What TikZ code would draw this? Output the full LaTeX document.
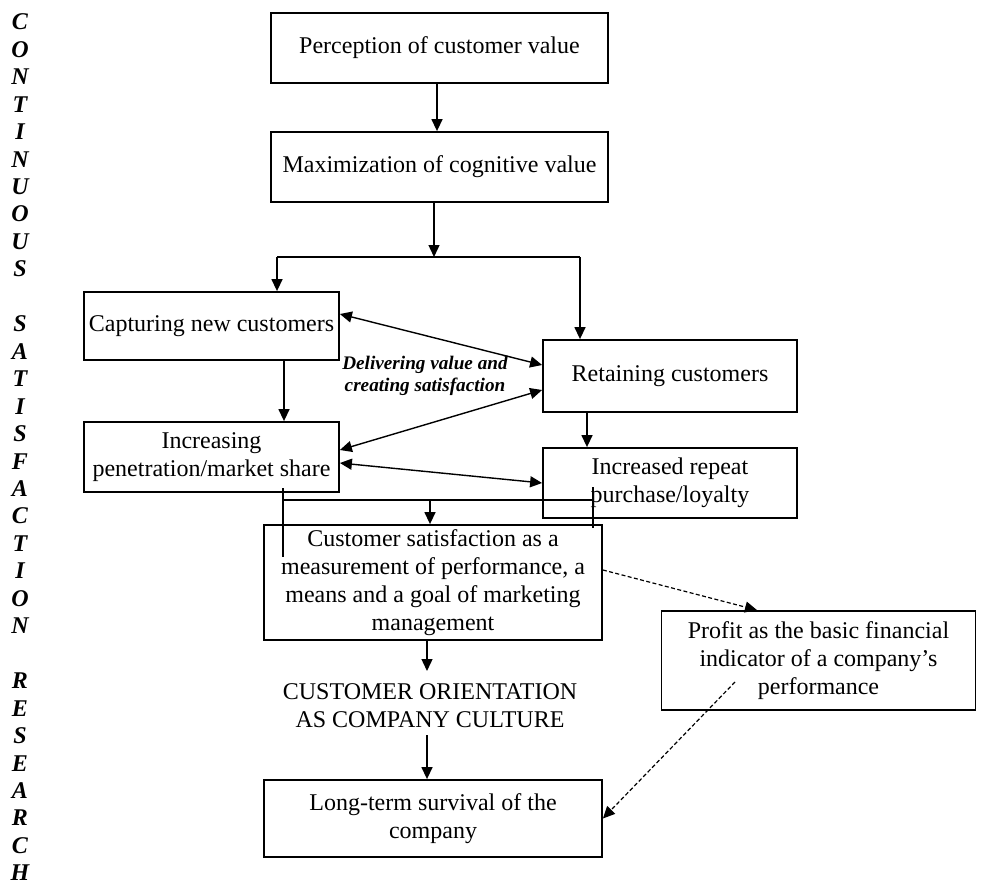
\documentclass[tikz,border=0pt]{standalone}
\usepackage{fontspec}
\setmainfont{Liberation Serif}
\usetikzlibrary{arrows.meta,calc}

\tikzset{
  box/.style={draw,line width=0.9pt,align=center,inner sep=0pt,
    font=\fontsize{12}{14}\selectfont},
  plain/.style={align=center,inner sep=0pt,font=\fontsize{12}{14}\selectfont},
  conn/.style={line width=0.7pt},
  dotconn/.style={line width=0.6pt,dash pattern=on 2pt off 1.2pt},
  >={Triangle[length=6pt,width=5.5pt]},
}

\begin{document}
\begin{tikzpicture}[x=0.5pt,y=-0.5pt]
  \useasboundingbox (0,0) rectangle (985,883);
  % letters down the left side
  \foreach \ch [count=\i from 0] in {C,O,N,T,I,N,U,O,U,S,{},S,A,T,I,S,F,A,C,T,I,O,N,{},R,E,S,E,A,R,C,H}
    \node[font=\fontsize{12}{14}\selectfont\bfseries\itshape,inner sep=0pt] (side\i) at (20,22+27.45*\i) {\ch};

  \node[box,minimum width=168.5pt,minimum height=35pt] (perc) at (439.5,48) {Perception of customer value};
  \node[box,minimum width=168.5pt,minimum height=35pt] (maxi) at (439.5,167) {Maximization of cognitive value};
  \node[box,minimum width=127.5pt,minimum height=34pt] (capt) at (211.5,326) {Capturing new customers};
  \node[box,minimum width=127.5pt,minimum height=35pt] (incr) at (211.5,457) {Increasing\\penetration/market share};
  \node[box,minimum width=127pt,minimum height=36pt] (reta) at (670,376) {Retaining customers};
  \node[box,minimum width=127pt,minimum height=35pt] (rept) at (670,483) {Increased repeat\\purchase/loyalty};
  \node[box,minimum width=169pt,minimum height=57.5pt] (csat) at (433,582.5) {Customer satisfaction as a\\measurement of performance, a\\means and a goal of marketing\\management};
  \node[plain] (orient) at (430,706) {CUSTOMER ORIENTATION\\AS COMPANY CULTURE};
  \node[box,minimum width=169pt,minimum height=38.5pt] (surv) at (433,818.5) {Long-term survival of the\\company};
  \node[box,minimum width=157pt,minimum height=49.5pt] (prof) at (818.5,660.5) {Profit as the basic financial\\indicator of a company's\\performance};
  \node[align=center,inner sep=0pt,font=\fontsize{9.6}{11}\selectfont\bfseries\itshape] (deliv) at (425,376) {Delivering value and\\creating satisfaction};

  % split below the second box
  \coordinate (split) at (434,257);
  \coordinate (splitL) at (277,257);
  \coordinate (splitR) at (580,257);
  \draw[conn,->] (perc.south -| 437,0) -- (maxi.north -| 437,0);
  \draw[conn,->] (maxi.south -| split) -- (split);
  \draw[conn] (splitL) -- (splitR);
  \draw[conn,->] (splitL) -- (capt.north -| splitL);
  \draw[conn,->] (splitR) -- (reta.north -| splitR);
  \draw[conn,->] (capt.south -| 284,0) -- (incr.north -| 284,0);
  \draw[conn,->] (reta.south -| 587,0) -- (rept.north -| 587,0);

  % two-headed arrows
  \draw[conn,<->] ([yshift=6pt]capt.east) -- ([yshift=5.5pt]reta.west);
  \draw[conn,<->] ([yshift=3.5pt]incr.east) -- ([yshift=-7pt]reta.west);
  \draw[conn,<->] ([yshift=-3pt]incr.east) -- (rept.west);

  % joining lines above the satisfaction box
  \coordinate (jA) at (283,488);
  \coordinate (jB) at (283,557);
  \coordinate (jC) at (283,500);
  \coordinate (jD) at (593,500);
  \coordinate (jE) at (593,487);
  \coordinate (jF) at (593,528);
  \coordinate (jM) at (430,500);
  \draw[conn] (jA) -- (jB);
  \draw[conn] (jC) -- (jD);
  \draw[conn] (jE) -- (jF);
  \draw[conn,->] (jM) -- (csat.north -| jM);

  \coordinate (oTop) at (427,671);
  \coordinate (oBot) at (427,735);
  \draw[conn,->] (csat.south -| oTop) -- (oTop);
  \draw[conn,->] (oBot) -- (surv.north -| oBot);

  % dashed arrows
  \coordinate (pin) at (735,682);
  \draw[dotconn,->] ([yshift=6.25pt]csat.east) -- (prof.north -| 757,0);
  \draw[dotconn,->] (pin) -- (surv.east);
\end{tikzpicture}
\end{document}
